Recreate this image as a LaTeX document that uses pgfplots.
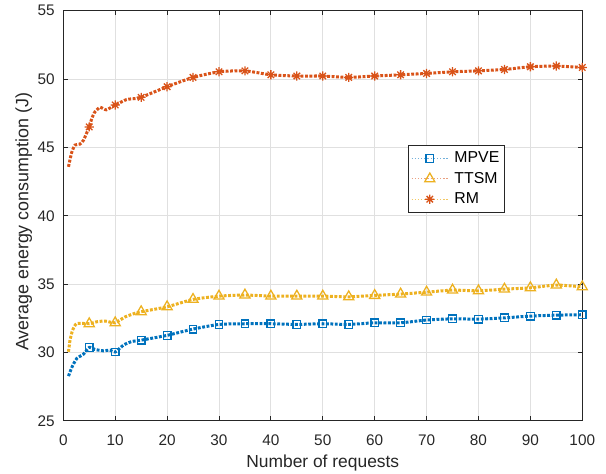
\documentclass[border=0pt]{standalone}
\usepackage{fontspec}
\setmainfont{Liberation Sans}
\usepackage{pgfplots}
\pgfplotsset{compat=1.18}
\definecolor{mblue}{rgb}{0,0.447,0.741}
\definecolor{morange}{rgb}{0.85,0.325,0.098}
\definecolor{myellow}{rgb}{0.929,0.694,0.125}
\definecolor{mtext}{rgb}{0.15,0.15,0.15}
\definecolor{mgrid}{rgb}{0.88,0.88,0.88}
\pgfdeclareplotmark{mstar}{%
  \pgfpathmoveto{\pgfqpoint{-\pgfplotmarksize}{0pt}}\pgfpathlineto{\pgfqpoint{\pgfplotmarksize}{0pt}}%
  \pgfpathmoveto{\pgfqpoint{0pt}{-\pgfplotmarksize}}\pgfpathlineto{\pgfqpoint{0pt}{\pgfplotmarksize}}%
  \pgfpathmoveto{\pgfqpoint{-0.7071\pgfplotmarksize}{-0.7071\pgfplotmarksize}}\pgfpathlineto{\pgfqpoint{0.7071\pgfplotmarksize}{0.7071\pgfplotmarksize}}%
  \pgfpathmoveto{\pgfqpoint{-0.7071\pgfplotmarksize}{0.7071\pgfplotmarksize}}\pgfpathlineto{\pgfqpoint{0.7071\pgfplotmarksize}{-0.7071\pgfplotmarksize}}%
  \pgfusepathqstroke}
\begin{document}
\begin{tikzpicture}
\begin{axis}[
  name=ax, at={(0,0)}, anchor=south west,
  scale only axis, width=328pt, height=259.2pt,
  xmin=0, xmax=100, ymin=25, ymax=55,
  xtick={0,10,...,100}, ytick={25,30,...,55},
  grid=major, major grid style={color=mgrid, line width=0.6pt},
  axis line style={color=mtext, line width=0.6pt},
  tick style={color=mtext, line width=0.6pt},
  tick align=inside, xtick pos=both, ytick pos=both,
  major tick length=3pt,
  /pgf/number format/assume math mode=true,
  ticklabel style={font=\fontsize{9.7}{11}\selectfont, color=mtext},
  xticklabel style={anchor=north, inner sep=0pt, yshift=-8.4pt},
  yticklabel style={anchor=east, inner sep=0pt, xshift=-5.2pt},
  xlabel={Number of requests},
  ylabel={Average energy consumption (J)},
  xlabel style={at={(axis description cs:0.5,-0.1146)}, anchor=base, inner sep=0pt, font=\fontsize{11}{13}\selectfont, color=mtext},
  ylabel style={at={(axis description cs:-0.0673,0.485)}, anchor=base, inner sep=0pt, font=\fontsize{11.3}{13}\selectfont, color=mtext},
  legend style={
    at={(axis cs:66.4,45.17)}, anchor=north west,
    draw=mtext, line width=0.5pt, fill=white,
    font=\fontsize{10}{12}\selectfont, text=black,
    inner xsep=1.8pt, inner ysep=2.5pt,
    row sep=1.2pt,
    cells={anchor=west},
    nodes={inner sep=1.6pt},
    /tikz/every odd column/.append style={column sep=2.2pt},
  },
  legend image code/.code={\draw[mark repeat=2,mark phase=2,#1] plot coordinates {(0pt,0pt) (11.5pt,0pt) (23pt,0pt)};},
]
% lines
\addplot[mblue, line width=1.9pt, dash pattern=on 1.8pt off 1pt, smooth, tension=0.35, forget plot] coordinates {
(1,28.27) (1.7,28.95) (2.6,29.56) (3.9,29.88) (5,30.37) (6.1,30.22) (7.7,30.12) (9,30.17) (10,30.03)
(11.6,30.54) (13.2,30.8) (15,30.9) (20,31.25) (25,31.71) (30,32.05) (35,32.1) (40,32.1) (45,32.05)
(50,32.1) (55,32.05) (60,32.17) (65,32.17) (70,32.37) (75,32.46) (80,32.44) (85,32.53) (90,32.66)
(95,32.73) (100,32.76)};
\addplot[myellow, line width=1.9pt, dash pattern=on 1.8pt off 1pt, smooth, tension=0.35, forget plot] coordinates {
(1,30.05) (1.3,30.9) (1.8,31.63) (2.6,32.12) (5,32.1) (6.4,32.24) (8,32.3) (10,32.17) (11.9,32.6)
(14.1,32.9) (15,32.98) (20,33.34) (25,33.88) (30,34.12) (35,34.2) (40,34.12) (45,34.12) (50,34.12)
(55,34.07) (60,34.17) (65,34.27) (70,34.41) (75,34.56) (80,34.51) (85,34.63) (90,34.73) (95,34.93)
(100,34.8)};
\addplot[morange, line width=1.9pt, dash pattern=on 1.8pt off 1pt, smooth, tension=0.35, forget plot] coordinates {
(1,43.58) (1.6,44.6) (2.25,45.17) (3.2,45.24) (3.9,45.53) (5,46.5) (5.5,47.12) (6.1,47.6) (7.1,47.93)
(8.3,47.75) (10,48.1) (12.2,48.5) (14.1,48.58) (15,48.66) (20,49.44) (25,50.12) (30,50.53) (35,50.6)
(40,50.31) (45,50.22) (50,50.22) (55,50.12) (60,50.22) (65,50.31) (70,50.41) (75,50.53) (80,50.6)
(85,50.7) (90,50.9) (95,50.95) (100,50.85)};
% markers
\addplot[only marks, mark=square, mark size=2.4pt, mblue, mark options={line width=0.8pt, solid}, forget plot] coordinates {
(5,30.37) (10,30.03) (15,30.9) (20,31.25) (25,31.71) (30,32.05) (35,32.1) (40,32.1) (45,32.05)
(50,32.1) (55,32.05) (60,32.17) (65,32.17) (70,32.37) (75,32.46) (80,32.44) (85,32.53) (90,32.66)
(95,32.73) (100,32.76)};
\addplot[only marks, mark=triangle, mark size=3.7pt, myellow, mark options={line width=0.8pt, solid}, forget plot] coordinates {
(5,32.1) (10,32.17) (15,32.98) (20,33.34) (25,33.88) (30,34.12) (35,34.2) (40,34.12) (45,34.12)
(50,34.12) (55,34.07) (60,34.17) (65,34.27) (70,34.41) (75,34.56) (80,34.51) (85,34.63) (90,34.73)
(95,34.93) (100,34.8)};
\addplot[only marks, mark=mstar, mark size=2.9pt, morange, mark options={line width=0.8pt, solid}, forget plot] coordinates {
(5,46.5) (10,48.1) (15,48.66) (20,49.44) (25,50.12) (30,50.53) (35,50.6) (40,50.31) (45,50.22)
(50,50.22) (55,50.12) (60,50.22) (65,50.31) (70,50.41) (75,50.53) (80,50.6) (85,50.7) (90,50.9)
(95,50.95) (100,50.85)};
% legend
\addlegendimage{color=mblue!55!white, line width=0.6pt, dash pattern=on 0.8pt off 1.2pt, mark=square, mark size=2.4pt, mark options={solid, draw=mblue, line width=0.8pt}}
\addlegendentry{MPVE}
\addlegendimage{color=morange!55!white, line width=0.6pt, dash pattern=on 0.8pt off 1.2pt, mark=triangle, mark size=3.7pt, mark options={solid, draw=myellow, line width=0.8pt}}
\addlegendentry{TTSM}
\addlegendimage{color=myellow!70!white, line width=0.6pt, dash pattern=on 0.8pt off 1.2pt, mark=mstar, mark size=2.9pt, mark options={solid, draw=morange, line width=0.8pt}}
\addlegendentry{RM}
\end{axis}
\pgfresetboundingbox
\path[use as bounding box] ([xshift=-40pt,yshift=-33.06pt]ax.south west) rectangle ([xshift=15pt,yshift=6.76pt]ax.north east);
\end{tikzpicture}
\end{document}
